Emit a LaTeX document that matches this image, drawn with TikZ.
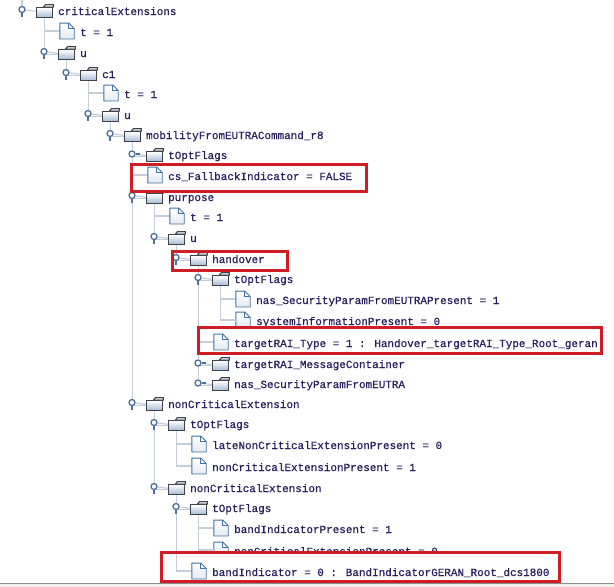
\documentclass[tikz,border=0pt]{standalone}
\usepackage{fontspec}
\setmainfont{Liberation Mono}[FakeBold=0.5]
\usetikzlibrary{positioning}
\pgfdeclarelayer{cutrows}
\pgfdeclarelayer{lines}
\pgfsetlayers{cutrows,lines,main}
\definecolor{rowink}{HTML}{26205E}
\definecolor{branch}{HTML}{C3CEDA}
\definecolor{knob}{HTML}{4F7099}
\definecolor{foldink}{HTML}{3F4248}
\definecolor{foldblue}{HTML}{A6BCD6}
\definecolor{pageblue}{HTML}{41719F}
\definecolor{markred}{HTML}{D01C24}
\tikzset{
  rowtext/.style={inner sep=0pt,anchor=base west,text=rowink,font=\fontsize{10.95}{13}\selectfont},
  treeline/.style={draw=branch,line width=1.2pt},
  folderbody/.style={draw=foldink,line width=1.1pt,top color=white,bottom color=foldblue,
    minimum width=16.5pt,minimum height=9.5pt,inner sep=0pt},
  foldertab/.style={draw=foldink,line width=1pt,fill=foldblue!45},
  pagebody/.style={minimum width=14pt,minimum height=15.5pt,inner sep=0pt},
  pageline/.style={draw=pageblue,line width=0.9pt,line join=round},
  knobnode/.style={circle,draw=knob,line width=1.3pt,fill=white,minimum size=6pt,inner sep=0pt},
  knobstem/.style={draw=knob,line width=1.3pt},
  redbox/.style={draw=markred,line width=3pt,inner sep=0pt},
  maskbox/.style={fill=white,inner sep=0pt}
}
% #1 name, #2 level, #3 row y, #4 text
\newcommand{\folderbits}[4]{
  \node[folderbody] (#1) at (44.5+22*#2,#3+1.5) {};
  \draw[foldertab] ([xshift=-10pt]#1.north east) -- ++(2,-2.5) -- ++(8,0) -- (#1.north east) -- cycle;
  \node[rowtext] (#1-tx) at (58+22*#2,#3+4) {#4};
}
\newcommand{\openrow}[4]{
  \folderbits{#1}{#2}{#3}{#4}
  \node[knobnode] (#1-tg) at (22+22*#2,#3-1.5) {};
  \draw[knobstem] (#1-tg.south) -- ++(0,4);
}
\newcommand{\shutrow}[4]{
  \folderbits{#1}{#2}{#3}{#4}
  \node[knobnode] (#1-tg) at (22+22*#2,#3-1) {};
  \draw[knobstem] (#1-tg.east) -- ++(4,0);
}
\newcommand{\filerow}[4]{
  \node[pagebody] (#1) at (45+22*#2,#3-1) {};
  \draw[pageline,top color=white,bottom color=foldblue!30] (#1.south west) -- (#1.north west) -- ([xshift=-5.5pt]#1.north east)
    -- ([yshift=-5.5pt]#1.north east) -- (#1.south east) -- cycle;
  \draw[pageline] ([xshift=-5.5pt]#1.north east) -- ([xshift=-5.5pt,yshift=-5.5pt]#1.north east) -- ([yshift=-5.5pt]#1.north east);
  \node[rowtext] (#1-tx) at (58+22*#2,#3+4) {#4};
}
\begin{document}
\begin{tikzpicture}[x=1pt,y=-1pt]
\useasboundingbox (0,0) rectangle (614,587);
\begin{pgfonlayer}{cutrows}
  \fill[white] (0,0) rectangle (614,587);
  \fill[black!6] (0,583) rectangle (614,587);
  \draw[black!45,line width=0.8pt] (0,583) -- (614,583);
  % rows that the red boxes cut off
  \filerow{sysPres}{9}{321}{systemInformationPresent = 0}
  \filerow{nonPresB}{8}{551}{nonCriticalExtensionPresent = 0}
  \node[maskbox,minimum width=403pt,minimum height=26pt] (maskC) at (399.75,340) {};
  \node[maskbox,minimum width=398pt,minimum height=29pt] (maskD) at (360,566.5) {};
\end{pgfonlayer}
\coordinate (topstub) at (22,0);
\openrow{crit}{0}{11}{criticalExtensions}
\filerow{critT}{1}{32}{t = 1}
\openrow{critU}{1}{53}{u}
\openrow{cOne}{2}{74}{c1}
\filerow{cOneT}{3}{94}{t = 1}
\openrow{cOneU}{3}{115}{u}
\openrow{mobil}{4}{135}{mobilityFromEUTRACommand\_r8}
\shutrow{flagsA}{5}{155}{tOptFlags}
\filerow{csFall}{5}{176}{cs\_FallbackIndicator = FALSE}
\openrow{purp}{5}{197}{purpose}
\filerow{purpT}{6}{217}{t = 1}
\openrow{purpU}{6}{238}{u}
\openrow{hand}{7}{259}{handover}
\openrow{flagsB}{8}{279}{tOptFlags}
\filerow{nasPres}{9}{300}{nas\_SecurityParamFromEUTRAPresent = 1}
\filerow{ratType}{8}{343}{targetRAI\_Type = 1 : Handover\_targetRAI\_Type\_Root\_geran}
\shutrow{ratCont}{8}{364}{targetRAI\_MessageContainer}
\shutrow{nasSec}{8}{384}{nas\_SecurityParamFromEUTRA}
\openrow{nonA}{5}{404}{nonCriticalExtension}
\openrow{flagsC}{6}{424}{tOptFlags}
\filerow{latePres}{7}{445}{lateNonCriticalExtensionPresent = 0}
\filerow{nonPres}{7}{467}{nonCriticalExtensionPresent = 1}
\openrow{nonB}{6}{488}{nonCriticalExtension}
\openrow{flagsD}{7}{508}{tOptFlags}
\filerow{bandPres}{8}{529}{bandIndicatorPresent = 1}
\filerow{bandInd}{7}{572}{bandIndicator = 0 : BandIndicatorGERAN\_Root\_dcs1800}
\begin{pgfonlayer}{lines}
  \draw[treeline] (topstub) -- (crit-tg);
  \foreach \X in {crit,critU,cOne,cOneU,mobil,flagsA,purp,purpU,hand,flagsB,ratCont,nasSec,nonA,flagsC,nonB,flagsD}
    \draw[treeline] (\X-tg) -- (\X);
  \foreach \X/\Y in {crit/critT,crit/critU,critU/cOne,cOne/cOneT,cOne/cOneU,cOneU/mobil,
    mobil/flagsA,mobil/csFall,mobil/purp,mobil/nonA,purp/purpT,purp/purpU,purpU/hand,
    hand/flagsB,hand/ratType,hand/ratCont,hand/nasSec,flagsB/nasPres,flagsB/sysPres,
    nonA/flagsC,nonA/nonB,flagsC/latePres,flagsC/nonPres,nonB/flagsD,nonB/bandInd,
    flagsD/bandPres,flagsD/nonPresB}
    \draw[treeline] (\X.south) |- (\Y.west);
\end{pgfonlayer}
\node[redbox,minimum width=235pt,minimum height=27pt] (markCs) at (248.5,177.5) {};
\node[redbox,minimum width=115pt,minimum height=19pt] (markHand) at (229.5,260.5) {};
\node[redbox,minimum width=403pt,minimum height=26pt] (markRat) at (399.75,340) {};
\node[redbox,minimum width=398pt,minimum height=29pt] (markBand) at (360,566.5) {};
\end{tikzpicture}
\end{document}
